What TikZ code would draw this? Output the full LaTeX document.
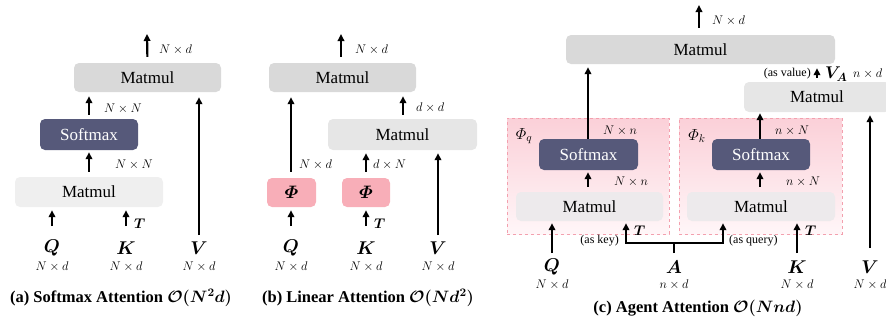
\RequirePackage{fix-cm}
\documentclass[tikz,border=0pt]{standalone}
\usepackage{amsmath}
\usepackage{bm}
\usepackage{fontspec}
\setmainfont{Liberation Serif}
\usetikzlibrary{arrows.meta,calc}
\definecolor{mmdark}{HTML}{D9D9D9}
\definecolor{mmmid}{HTML}{E6E6E6}
\definecolor{mmlight}{HTML}{EFEFEF}
\definecolor{mmpink}{HTML}{EDEAEC}
\definecolor{smcol}{HTML}{56597A}
\definecolor{phicol}{HTML}{F8AEB8}
\definecolor{pinktop}{HTML}{FBD0D8}
\definecolor{pinkbot}{HTML}{FFF6F8}
\definecolor{pinkline}{HTML}{F3A0AE}
\tikzset{
  boxlbl/.style={font=\fontsize{17}{20}\selectfont, inner sep=0pt, rounded corners=5pt},
  mmbox/.style={boxlbl, fill=#1},
  smbox/.style={boxlbl, fill=smcol, text=white},
  phibox/.style={boxlbl, fill=phicol},
  pinkbox/.style={draw=pinkline, dashed, line width=0.8pt, top color=pinktop, bottom color=pinkbot, inner sep=0pt},
  arr/.style={line width=2.2pt, -{Triangle[length=7pt,width=6.5pt]}},
  plain/.style={line width=2.2pt},
  dim/.style={font=\fontsize{12.5}{14}\selectfont, inner sep=0pt},
  inp/.style={font=\fontsize{18.5}{21}\selectfont, inner sep=0pt},
  tlbl/.style={font=\fontsize{14}{16}\selectfont, inner sep=0pt},
  note/.style={font=\fontsize{12}{14}\selectfont, inner sep=0pt},
  phil/.style={font=\fontsize{16}{18}\selectfont, inner sep=0pt},
  captxt/.style={font=\fontsize{16.5}{19}\selectfont\bfseries, inner sep=0pt},
}
\begin{document}
\begin{tikzpicture}[x=1pt,y=-1pt]
\useasboundingbox (0,0) rectangle (886,322);
% ================= (a) =================
\node[mmbox=mmdark, minimum width=147pt, minimum height=29pt] (aM2) at (147.5,77.5) {Matmul};
\node[smbox, minimum width=98pt, minimum height=31pt] (aS) at (89,134.5) {Softmax};
\node[mmbox=mmlight, minimum width=148pt, minimum height=30pt] (aM1) at (89,192) {Matmul};
\coordinate (aOut) at (147,34);
\coordinate (aQt) at (52,226);
\coordinate (aKt) at (126,226);
\coordinate (aVt) at (199,235);
\draw[arr, shorten <=5pt, shorten >=2pt] (aM1.north) -- (aS.south);
\draw[arr, shorten <=4pt, shorten >=4pt] (aS.north) -- (aM2.south -| aS.north);
\draw[arr, shorten <=6pt] (aM2.north) -- (aOut);
\draw[arr, shorten >=3pt] (aQt) -- (aM1.south -| aQt);
\draw[arr, shorten >=3pt] (aKt) -- (aM1.south -| aKt);
\draw[arr, shorten >=5pt] (aVt) -- (aM2.south -| aVt);
\node[dim, anchor=west] (aD0) at (159,50) {$N\times d$};
\node[dim, anchor=west] (aD1) at (104,109) {$N\times N$};
\node[dim, anchor=west] (aD2) at (115,165) {$N\times N$};
\node[tlbl, anchor=west] (aT) at (134,224) {$\bm{T}$};
\node[inp] (aQ) at (52,248) {$\bm{Q}$};
\node[inp] (aK) at (126,248) {$\bm{K}$};
\node[inp] (aV) at (199,248) {$\bm{V}$};
\node[dim] (aQd) at (52,267) {$N\times d$};
\node[dim] (aKd) at (126,267) {$N\times d$};
\node[dim] (aVd) at (199,267) {$N\times d$};
\node[captxt] (aCap) at (121,298) {(a) Softmax Attention $\bm{\mathcal{O}(N^2d)}$};
% ================= (b) =================
\node[mmbox=mmdark, minimum width=147pt, minimum height=29pt] (bM2) at (342.5,77.5) {Matmul};
\node[mmbox=mmmid, minimum width=149pt, minimum height=31pt] (bM1) at (402.5,134.5) {Matmul};
\node[phibox, minimum width=49pt, minimum height=29pt] (bP1) at (291.5,192.5) {\fontsize{18}{20}\selectfont$\bm{\varPhi}$};
\node[phibox, minimum width=48pt, minimum height=29pt] (bP2) at (366,192.5) {\fontsize{18}{20}\selectfont$\bm{\varPhi}$};
\coordinate (bOut) at (341,34);
\coordinate (bQt) at (291,226);
\coordinate (bKt) at (366,226);
\coordinate (bVt) at (438,235);
\draw[arr, shorten <=6pt] (bM2.north -| bOut) -- (bOut);
\draw[arr, shorten <=4pt, shorten >=4pt] (bM1.north -| 403,0) -- (bM2.south -| 403,0);
\draw[arr, shorten <=6pt, shorten >=5pt] (bP1.north -| bQt) -- (bM2.south -| bQt);
\draw[arr, shorten <=6pt, shorten >=3pt] (bP2.north) -- (bM1.south -| bP2.north);
\draw[arr, shorten >=3pt] (bQt) -- (bP1.south -| bQt);
\draw[arr, shorten >=3pt] (bKt) -- (bP2.south);
\draw[arr, shorten >=3pt] (bVt) -- (bM1.south -| bVt);
\node[dim, anchor=west] (bD0) at (355,50) {$N\times d$};
\node[dim, anchor=west] (bD1) at (416,108) {$d\times d$};
\node[dim, anchor=west] (bD2) at (299,165) {$N\times d$};
\node[dim, anchor=west] (bD3) at (373,165) {$d\times N$};
\node[tlbl, anchor=west] (bT) at (374,224) {$\bm{T}$};
\node[inp] (bQ) at (291,248) {$\bm{Q}$};
\node[inp] (bK) at (366,248) {$\bm{K}$};
\node[inp] (bV) at (438,248) {$\bm{V}$};
\node[dim] (bQd) at (291,267) {$N\times d$};
\node[dim] (bKd) at (366,267) {$N\times d$};
\node[dim] (bVd) at (438,267) {$N\times d$};
\node[captxt] (bCap) at (368,298) {(b) Linear Attention $\bm{\mathcal{O}(Nd^2)}$};
% ================= (c) =================
\node[pinkbox, minimum width=162pt, minimum height=116pt] (cPq) at (588,176) {};
\node[pinkbox, minimum width=163pt, minimum height=116pt] (cPk) at (760.5,176) {};
\node[mmbox=mmdark, minimum width=269pt, minimum height=29pt] (cM3) at (700.5,49.5) {Matmul};
\node[mmbox=mmmid, minimum width=146pt, minimum height=30pt] (cM2) at (817,97) {Matmul};
\node[smbox, minimum width=99pt, minimum height=31pt] (cSq) at (588.5,154.5) {Softmax};
\node[mmbox=mmpink, minimum width=147pt, minimum height=29pt] (cMq) at (589.5,206.5) {Matmul};
\node[smbox, minimum width=98pt, minimum height=31pt] (cSk) at (761,154.5) {Softmax};
\node[mmbox=mmpink, minimum width=148pt, minimum height=29pt] (cMk) at (761,206.5) {Matmul};
\coordinate (cOut) at (699,5);
\coordinate (cQt) at (552,253);
\coordinate (cKt) at (797,253);
\coordinate (cVt) at (870,248);
\coordinate (cAt) at (674,253);
\coordinate (cAj) at (674,243);
\coordinate (cAL) at (626,0);
\coordinate (cAR) at (723,0);
\draw[arr, shorten <=7pt] (cM3.north -| cOut) -- (cOut);
\draw[arr, shorten <=4pt, shorten >=4pt] (cM2.north) -- (cM3.south -| cM2.north);
\draw[arr, shorten >=3pt] (cSq.north -| 588,0) -- (cM3.south -| 588,0);
\draw[arr, shorten <=5pt, shorten >=2pt] (cMq.north -| 588,0) -- (cSq.south -| 588,0);
\draw[arr, shorten >=1pt] (cSk.north -| 760,0) -- (cM2.south -| 760,0);
\draw[arr, shorten <=5pt, shorten >=2pt] (cMk.north -| 760,0) -- (cSk.south -| 760,0);
\draw[arr, shorten >=2pt] (cQt) -- (cMq.south -| cQt);
\draw[arr, shorten >=2pt] (cKt) -- (cMk.south -| cKt);
\draw[arr, shorten >=3pt] (cVt) -- (cM2.south -| cVt);
\draw[plain] (cAt) -- (cAj);
\draw[arr, shorten >=2pt] ($(cAj)+(1.1pt,0)$) -| (cMq.south -| cAL);
\draw[arr, shorten >=2pt] ($(cAj)-(1.1pt,0)$) -| (cMk.south -| cAR);
\node[dim, anchor=west] (cD0) at (712,21) {$N\times d$};
\node[note, anchor=east] (cAsV) at (811,74) {(as value)};
\node[inp, anchor=west, font=\fontsize{17}{19}\selectfont] (cVA) at (825,74) {$\bm{V_A}$};
\node[dim, anchor=west] (cD1) at (853,74) {$n\times d$};
\node[phil] (cPhq) at (524,136) {$\varPhi_q$};
\node[phil] (cPhk) at (697,136) {$\varPhi_k$};
\node[dim, anchor=west] (cD2) at (603,131) {$N\times n$};
\node[dim, anchor=west] (cD3) at (614,182) {$N\times n$};
\node[dim, anchor=west] (cD4) at (775,131) {$n\times N$};
\node[dim, anchor=west] (cD5) at (786,182) {$n\times N$};
\node[note, anchor=east] (cAsK) at (619,241) {(as key)};
\node[tlbl, anchor=west] (cT1) at (634,231) {$\bm{T}$};
\node[note, anchor=west] (cAsQ) at (729,241) {(as query)};
\node[tlbl, anchor=west] (cT2) at (805,231) {$\bm{T}$};
\node[inp] (cQ) at (552,267) {$\bm{Q}$};
\node[inp] (cA) at (674,267) {$\bm{A}$};
\node[inp] (cK) at (797,267) {$\bm{K}$};
\node[inp] (cV) at (870,267) {$\bm{V}$};
\node[dim] (cQd) at (552,285) {$N\times d$};
\node[dim] (cAd) at (674,285) {$n\times d$};
\node[dim] (cKd) at (797,285) {$N\times d$};
\node[dim] (cVd) at (870,285) {$N\times d$};
\node[captxt] (cCap) at (698,308) {(c) Agent Attention $\bm{\mathcal{O}(Nnd)}$};
\end{tikzpicture}
\end{document}
